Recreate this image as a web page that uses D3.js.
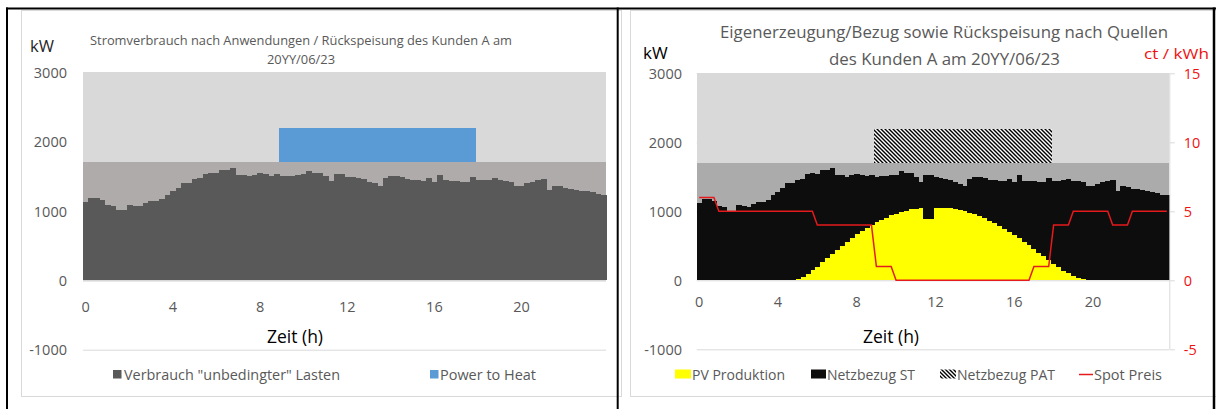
<!DOCTYPE html>
<html>
<head>
<meta charset="utf-8">
<script src="https://cdn.jsdelivr.net/npm/d3@7"></script>
<style>
  html, body { margin: 0; padding: 0; background: #fff; }
  svg { display: block; }
  text { font-family: "Open Sans", "DejaVu Sans", sans-serif; }
</style>
</head>
<body>
<script>
// ---- data: 96 quarter-hour slots of one day (kW), spot price in ct/kWh ----
const slots = d3.range(96);
const hourTicks = [0, 4, 8, 12, 16, 20];

// load of the "unconditional" consumers (kW)
const loadKW = [
  1122, 1180, 1180, 1151, 1079, 1065, 1007, 1007, 1089, 1075, 1065, 1113, 1137, 1137, 1171, 1233,
  1281, 1338, 1410, 1410, 1459, 1473, 1535, 1554, 1545, 1593, 1593, 1626, 1521, 1521, 1497, 1521,
  1545, 1530, 1507, 1530, 1497, 1507, 1507, 1521, 1530, 1583, 1554, 1554, 1497, 1430, 1530, 1528,
  1490, 1483, 1473, 1459, 1424, 1401, 1362, 1473, 1497, 1497, 1487, 1459, 1449, 1440, 1434, 1473,
  1424, 1521, 1440, 1434, 1434, 1424, 1424, 1487, 1440, 1440, 1449, 1473, 1440, 1434, 1424, 1362,
  1362, 1401, 1424, 1440, 1459, 1295, 1362, 1353, 1329, 1319, 1305, 1290, 1281, 1267, 1243, 1233
];

// own PV production (kW)
const pvKW = [
     0,    0,    0,    0,    0,    0,    0,    0,    0,    0,    0,    0,    0,    0,    0,    0,
     0,    0,    2,    8,   25,   55,   95,  145,  200,  260,  320,  380,  440,  500,  555,  610,
   665,  715,  765,  805,  845,  880,  910,  940,  965,  990, 1010, 1028, 1040, 1046,  895,  895,
  1052, 1050, 1048, 1042, 1032, 1018, 1002,  982,  958,  930,  898,  865,  828,  790,  748,  703,
   657,  608,  558,  505,  452,  398,  345,  292,  240,  190,  142,  100,   65,   38,   18,    6,
     0,    0,    0,    0,    0,    0,    0,    0,    0,    0,    0,    0,    0,    0,    0,    0
];

// power-to-heat / grid purchase PAT (kW), stacked above the connection limit
const powerToHeatKW = [
    0,   0,   0,   0,   0,   0,   0,   0,   0,   0,   0,   0,   0,   0,   0,   0,
    0,   0,   0,   0,   0,   0,   0,   0,   0,   0,   0,   0,   0,   0,   0,   0,
    0,   0,   0,   0, 500, 500, 500, 500, 500, 500, 500, 500, 500, 500, 500, 500,
  500, 500, 500, 500, 500, 500, 500, 500, 500, 500, 500, 500, 500, 500, 500, 500,
  500, 500, 500, 500, 500, 500, 500, 500,   0,   0,   0,   0,   0,   0,   0,   0,
    0,   0,   0,   0,   0,   0,   0,   0,   0,   0,   0,   0,   0,   0,   0,   0
];

// spot price (ct/kWh), hourly values per quarter hour
const spotPrice = [
  6, 6, 6, 6,  5, 5, 5, 5,  5, 5, 5, 5,  5, 5, 5, 5,  5, 5, 5, 5,  5, 5, 5, 5,
  4, 4, 4, 4,  4, 4, 4, 4,  4, 4, 4, 4,  1, 1, 1, 1,  0, 0, 0, 0,  0, 0, 0, 0,
  0, 0, 0, 0,  0, 0, 0, 0,  0, 0, 0, 0,  0, 0, 0, 0,  0, 0, 0, 0,  1, 1, 1, 1,
  4, 4, 4, 4,  5, 5, 5, 5,  5, 5, 5, 5,  4, 4, 4, 4,  5, 5, 5, 5,  5, 5, 5, 5
];

const limitKW = 1700;               // connection limit, lower shaded band
const kwTicks = [-1000, 0, 1000, 2000, 3000];
const priceTicks = [-5, 0, 5, 10, 15];

// grid purchase ST = load not covered by PV
const gridKW = loadKW.map((v, i) => v - pvKW[i]);

// ---- drawing ----
const W = 1216, H = 409;
const svg = d3.select("body").append("svg").attr("width", W).attr("height", H);

const defs = svg.append("defs");
const hatch = defs.append("pattern")
  .attr("id", "hatchPAT").attr("patternUnits", "userSpaceOnUse")
  .attr("width", 4).attr("height", 4);
hatch.append("rect").attr("width", 4).attr("height", 4).attr("fill", "#fff");
hatch.append("path").attr("d", "M-1,-1L5,5M3,-1L5,1M-1,3L1,5")
  .attr("stroke", "#000").attr("stroke-width", 1.4);

const grey = "#595959";
// plain hyphen-minus for negative tick labels
const fmt = d3.formatLocale({ decimal: ".", thousands: "", grouping: [3], currency: ["", ""], minus: "-" }).format("d");

// chart frames
svg.append("rect").attr("x", 21.5).attr("y", 10.5).attr("width", 600).attr("height", 386)
  .attr("fill", "none").attr("stroke", "#d9d9d9");
svg.append("rect").attr("x", 630.5).attr("y", 10.5).attr("width", 590).attr("height", 386)
  .attr("fill", "none").attr("stroke", "#d9d9d9");

function addText(g, x, y, str, opt) {
  const t = g.append("text").attr("x", x).attr("y", y).text(str)
    .attr("font-size", opt.size).attr("fill", opt.color || grey)
    .attr("text-anchor", opt.anchor || "start");
  if (opt.len) t.attr("textLength", opt.len).attr("lengthAdjust", "spacingAndGlyphs");
  return t;
}

function drawKwAxes(g, x, y, labelX, xLabelY) {
  // gridlines under the plot fills
  g.selectAll("line.grid").data(kwTicks).join("line")
    .attr("x1", x.range()[0]).attr("x2", x.range()[1])
    .attr("y1", d => y(d) + 0.5).attr("y2", d => y(d) + 0.5)
    .attr("stroke", "#d9d9d9");
  const ax = g.append("g").attr("transform", `translate(${labelX},0)`)
    .call(d3.axisLeft(y).tickValues(kwTicks).tickFormat(fmt).tickSize(0).tickPadding(0));
  ax.select(".domain").remove();
  ax.selectAll("text").attr("font-size", 14.5).attr("fill", grey)
    .attr("font-family", "Open Sans").attr("dy", "0.35em");
  const bx = g.append("g").attr("transform", `translate(0,${xLabelY})`)
    .call(d3.axisBottom(x).tickValues(hourTicks.map(h => h * 4))
      .tickFormat(d => String(d / 4)).tickSize(0).tickPadding(0));
  bx.select(".domain").remove();
  bx.selectAll("text").attr("font-size", 14.5).attr("fill", grey)
    .attr("font-family", "Open Sans").attr("dy", "0.35em");
}

// ===== left chart: consumption by application =====
{
  const g = svg.append("g");
  const x = d3.scaleBand().domain(slots).range([83, 606]).padding(0);
  const y = d3.scaleLinear().domain([-1000, 3000]).range([349.7, 72.2]);

  drawKwAxes(g, x, y, 67, 307);

  const bars = g.append("g").attr("shape-rendering", "crispEdges");
  // shaded bands: above and below the connection limit
  bars.append("rect").attr("x", x.range()[0]).attr("width", x.range()[1] - x.range()[0])
    .attr("y", y(3000)).attr("height", y(limitKW) - y(3000)).attr("fill", "#d9d9d9");
  bars.append("rect").attr("x", x.range()[0]).attr("width", x.range()[1] - x.range()[0])
    .attr("y", y(limitKW)).attr("height", y(0) - y(limitKW)).attr("fill", "#afabab");

  bars.selectAll("rect.load").data(loadKW).join("rect").attr("class", "load")
    .attr("x", (d, i) => x(i)).attr("width", x.bandwidth() + 0.6)
    .attr("y", d => y(d)).attr("height", d => y(0) - y(d)).attr("fill", grey);

  bars.selectAll("rect.p2h").data(powerToHeatKW).join("rect").attr("class", "p2h")
    .attr("x", (d, i) => x(i)).attr("width", d => d > 0 ? x.bandwidth() + 0.6 : 0)
    .attr("y", d => y(limitKW + d)).attr("height", d => y(limitKW) - y(limitKW + d))
    .attr("fill", "#5b9bd5");

  g.append("line").attr("x1", x.range()[0]).attr("x2", x.range()[1])
    .attr("y1", y(0) + 0.5).attr("y2", y(0) + 0.5).attr("stroke", "#d0d0d0");

  addText(g, 30, 52, "kW", { size: 16.5, color: "#262626" });
  addText(g, 90, 45, "Stromverbrauch nach Anwendungen / Rückspeisung des Kunden A am", { size: 12.5, len: 422 });
  addText(g, 301, 63.5, "20YY/06/23", { size: 12.5, anchor: "middle", len: 68 });
  addText(g, 295, 343, "Zeit (h)", { size: 17.5, anchor: "middle", color: "#000" });

  // legend
  g.append("rect").attr("x", 113).attr("y", 370).attr("width", 8.5).attr("height", 8.5).attr("fill", grey);
  addText(g, 124, 380, "Verbrauch \"unbedingter\" Lasten", { size: 15, len: 216 });
  g.append("rect").attr("x", 430).attr("y", 370).attr("width", 8.5).attr("height", 8.5).attr("fill", "#5b9bd5");
  addText(g, 440, 380, "Power to Heat", { size: 15, len: 96 });
}

// ===== right chart: supply by source =====
{
  const g = svg.append("g");
  const x = d3.scaleBand().domain(slots).range([696.7, 1169.3]).padding(0);
  const y = d3.scaleLinear().domain([-1000, 3000]).range([349.3, 73.3]);
  const yP = d3.scaleLinear().domain([-5, 15]).range([349.3, 73.3]);

  drawKwAxes(g, x, y, 682, 301.5);

  const bars = g.append("g").attr("shape-rendering", "crispEdges");
  bars.append("rect").attr("x", x.range()[0]).attr("width", x.range()[1] - x.range()[0])
    .attr("y", y(3000)).attr("height", y(limitKW) - y(3000)).attr("fill", "#d9d9d9");
  bars.append("rect").attr("x", x.range()[0]).attr("width", x.range()[1] - x.range()[0])
    .attr("y", y(limitKW)).attr("height", y(0) - y(limitKW)).attr("fill", "#ababab");

  // stacked columns: PV at the bottom, grid purchase ST on top
  bars.selectAll("rect.pv").data(pvKW).join("rect").attr("class", "pv")
    .attr("x", (d, i) => x(i)).attr("width", x.bandwidth() + 0.6)
    .attr("y", d => y(d)).attr("height", d => y(0) - y(d)).attr("fill", "#ffff00");
  bars.selectAll("rect.st").data(gridKW).join("rect").attr("class", "st")
    .attr("x", (d, i) => x(i)).attr("width", x.bandwidth() + 0.6)
    .attr("y", (d, i) => y(pvKW[i] + d)).attr("height", (d, i) => y(pvKW[i]) - y(pvKW[i] + d))
    .attr("fill", "#0d0d0d");

  bars.selectAll("rect.pat").data(powerToHeatKW).join("rect").attr("class", "pat")
    .attr("x", (d, i) => x(i)).attr("width", d => d > 0 ? x.bandwidth() + 0.6 : 0)
    .attr("y", d => y(limitKW + d)).attr("height", d => y(limitKW) - y(limitKW + d))
    .attr("fill", "url(#hatchPAT)");

  // secondary axis for the spot price
  const ra = g.append("g").attr("transform", `translate(${x.range()[1] + 0.5},0)`)
    .call(d3.axisRight(yP).tickValues(priceTicks).tickFormat(fmt).tickSize(5).tickPadding(9));
  ra.select(".domain").attr("stroke", "#d9d9d9").attr("d", `M0,${yP(15)}V${yP(-5)}`);
  ra.selectAll("line").attr("stroke", "#d9d9d9");
  ra.selectAll("text").attr("font-size", 14.5).attr("fill", "#ee1111")
    .attr("font-family", "Open Sans").attr("dy", "0.35em");

  const line = d3.line().x((d, i) => x(i) + x.bandwidth() / 2).y(d => yP(d));
  g.append("path").datum(spotPrice).attr("d", line)
    .attr("fill", "none").attr("stroke", "#e41a1c").attr("stroke-width", 1.5);

  addText(g, 643, 59, "kW", { size: 17, color: "#000" });
  addText(g, 1144, 58.5, "ct / kWh", { size: 14.5, color: "#ee1111", len: 65 });
  addText(g, 944, 38, "Eigenerzeugung/Bezug sowie Rückspeisung nach Quellen", { size: 16, anchor: "middle", len: 448 });
  addText(g, 944.5, 64.5, "des Kunden A am 20YY/06/23", { size: 16.5, anchor: "middle", len: 231 });
  addText(g, 891, 343, "Zeit (h)", { size: 17.5, anchor: "middle", color: "#000" });

  // legend
  const ly = 369.5;
  g.append("rect").attr("x", 675).attr("y", ly).attr("width", 16).attr("height", 9).attr("fill", "#ffff00");
  addText(g, 692, 380, "PV Produktion", { size: 15, len: 93 });
  g.append("rect").attr("x", 811).attr("y", ly).attr("width", 15).attr("height", 9).attr("fill", "#0d0d0d");
  addText(g, 827, 380, "Netzbezug ST", { size: 15, len: 88 });
  g.append("rect").attr("x", 940).attr("y", ly).attr("width", 16).attr("height", 9).attr("fill", "url(#hatchPAT)");
  addText(g, 957, 380, "Netzbezug PAT", { size: 15, len: 98 });
  g.append("line").attr("x1", 1079).attr("x2", 1093).attr("y1", 374.5).attr("y2", 374.5)
    .attr("stroke", "#e41a1c").attr("stroke-width", 1.5);
  addText(g, 1094, 380, "Spot Preis", { size: 15, len: 68 });
}

// table borders around the two charts
svg.append("line").attr("x1", 6).attr("x2", W).attr("y1", 8.5).attr("y2", 8.5).attr("stroke", "#000").attr("stroke-width", 2);
svg.append("line").attr("x1", 7).attr("x2", 7).attr("y1", 7.5).attr("y2", H).attr("stroke", "#000").attr("stroke-width", 2);
svg.append("line").attr("x1", 617.7).attr("x2", 617.7).attr("y1", 7.5).attr("y2", H).attr("stroke", "#000").attr("stroke-width", 2);
svg.append("line").attr("x1", 1214).attr("x2", 1214).attr("y1", 7.5).attr("y2", H).attr("stroke", "#000").attr("stroke-width", 2.5);
</script>
</body>
</html>
